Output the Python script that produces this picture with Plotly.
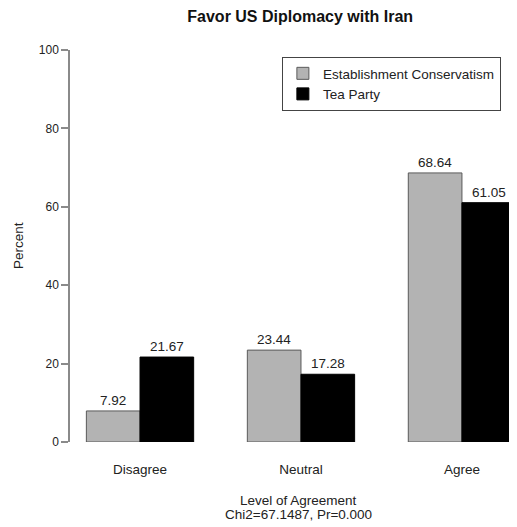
import plotly.graph_objects as go

categories = ["Disagree", "Neutral", "Agree"]
establishment = [7.92, 23.44, 68.64]
tea_party = [21.67, 17.28, 61.05]
y_ticks = [0, 20, 40, 60, 80, 100]

font = "Liberation Sans, Arial, Helvetica, sans-serif"
lab = 13.5

fig = go.Figure()
fig.add_trace(go.Bar(
    x=categories, y=establishment, name="Establishment Conservatism",
    marker=dict(color="#b3b3b3", line=dict(color="#5a5a5a", width=1)),
    text=[f"{v:.2f}" for v in establishment], textposition="outside",
    textfont=dict(size=lab, color="#222"), cliponaxis=False,
))
fig.add_trace(go.Bar(
    x=categories, y=tea_party, name="Tea Party",
    marker=dict(color="black", line=dict(color="black", width=1)),
    text=[f"{v:.2f}" for v in tea_party], textposition="outside",
    textfont=dict(size=lab, color="#222"), cliponaxis=False,
))

# page body adds an 8px margin, so the figure is sized 8px smaller
fig.update_layout(
    width=509, height=519,
    margin=dict(l=62, r=0, t=42, b=85),
    paper_bgcolor="white", plot_bgcolor="white",
    font=dict(family=font, size=12, color="#222"),
    barmode="group", bargap=1/3, bargroupgap=0,
    title=dict(text="<b>Favor US Diplomacy with Iran</b>", xref="paper", x=0.515,
               xanchor="center", y=0.983, yanchor="middle",
               font=dict(size=16, color="#111")),
    showlegend=True,
    legend=dict(x=0.474, y=0.982, xanchor="left", yanchor="top",
                bordercolor="#444", borderwidth=1, bgcolor="white",
                font=dict(size=lab), tracegroupgap=0, itemwidth=30),
    annotations=[
        dict(text="Level of Agreement", xref="paper", yref="paper", x=0.512, y=0,
             yshift=-58, showarrow=False, yanchor="middle", font=dict(size=lab)),
        dict(text="Chi2=67.1487, Pr=0.000", xref="paper", yref="paper", x=0.512, y=0,
             yshift=-72, showarrow=False, yanchor="middle", font=dict(size=lab)),
        dict(text="Percent", xref="paper", yref="paper", x=0, y=0.5, xshift=-52,
             textangle=-90, showarrow=False, xanchor="center", yanchor="middle",
             font=dict(size=lab)),
    ],
)
fig.update_xaxes(
    range=[-0.435, 2.342], showline=False, ticks="", showgrid=False,
    ticklabelstandoff=17, tickfont=dict(size=lab), automargin=False,
)
fig.update_yaxes(
    range=[0, 100], tickvals=y_ticks, showline=True, linecolor="#8a8a8a", linewidth=1.5,
    ticks="outside", ticklen=7, tickcolor="#8a8a8a", tickwidth=1.5,
    showgrid=False, zeroline=False, automargin=False,
)

fig.write_html("out.html")
